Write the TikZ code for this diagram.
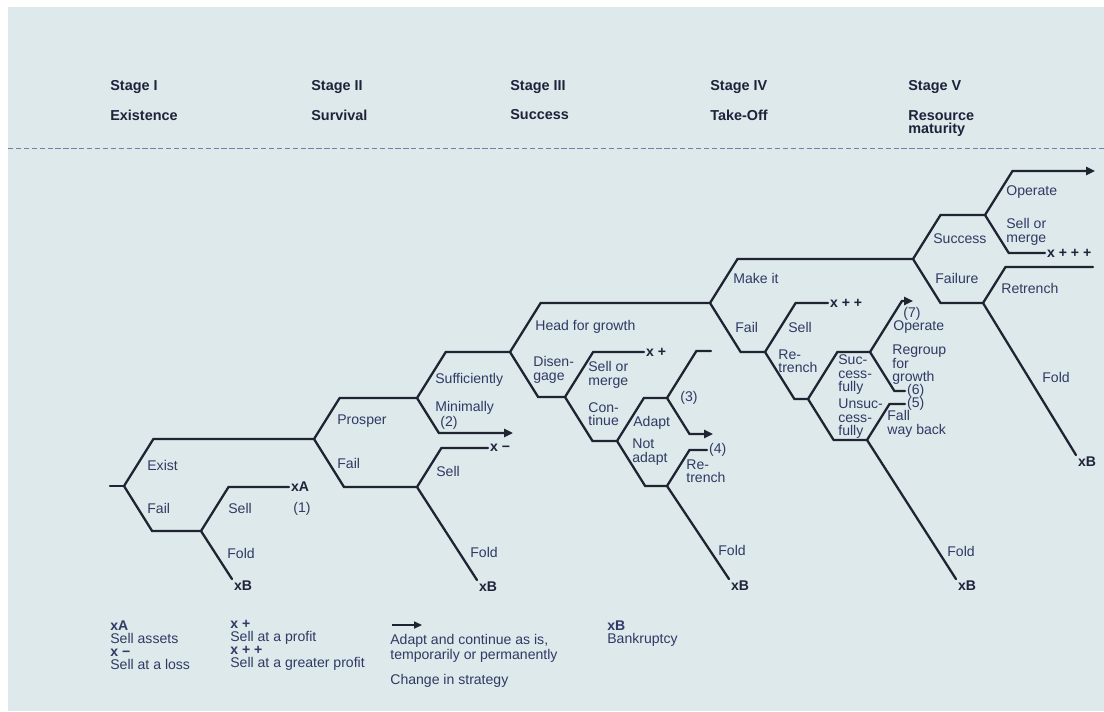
\documentclass[tikz,border=0pt]{standalone}
\usepackage{fontspec}
\setmainfont{Liberation Sans}
\usepackage{tikz}
\usetikzlibrary{arrows.meta, calc}

\definecolor{bgcol}{RGB}{221,233,235}
\definecolor{linecol}{RGB}{32,36,50}
\definecolor{textcol}{RGB}{48,58,100}
\definecolor{headcol}{RGB}{30,34,58}
\definecolor{rulecol}{RGB}{110,130,170}

\begin{document}
\begin{tikzpicture}[
  x=0.02cm, y=-0.02cm,
  branch/.style={draw=linecol, line width=1.3pt, line cap=round},
  arrowend/.style={-{Triangle[length=5pt, width=4.5pt]}},
  forkto/.style={to path={let \p1=(\tikztostart), \p2=(\tikztotarget),
      \n1={abs(\y2-\y1)/1.6} in -- ({\x1+\n1*1pt},\y2) -- (\tikztotarget) \tikztonodes}},
  lbl/.style={anchor=west, inner sep=0pt, text=textcol, align=left,
      font=\fontsize{8}{7.7}\selectfont},
  tip/.style={anchor=west, inner sep=1pt, text=headcol,
      font=\fontsize{8}{7.7}\selectfont\bfseries},
  stage/.style={anchor=west, inner sep=0pt, text=headcol, align=left,
      font=\fontsize{8.2}{7.6}\selectfont\bfseries},
  legend/.style={anchor=north west, inner sep=0pt, text=textcol, align=left,
      font=\fontsize{8}{7.4}\selectfont},
]
\useasboundingbox (0,0) rectangle (1104,711);
\fill[white] (0,0) rectangle (1104,711);
\fill[bgcol] (8,7) rectangle (1104,711);

% Stage headings
\node[stage] (st1) at (110,87) {Stage I};
\node[stage] (st2) at (311,87) {Stage II};
\node[stage] (st3) at (510,87) {Stage III};
\node[stage] (st4) at (710,87) {Stage IV};
\node[stage] (st5) at (908,87) {Stage V};
\node[stage] (nm1) at (110,115) {Existence};
\node[stage] (nm2) at (311,115) {Survival};
\node[stage] (nm3) at (510,115) {Success};
\node[stage] (nm4) at (710,115) {Take-Off};
\node[stage, anchor=north west] (nm5) at (908,110) {Resource\\maturity};
\draw[rulecol, line width=0.5pt, dash pattern=on 3pt off 1.5pt] (8,148) -- (1104,148);

% Branch points
\coordinate (s0) at (110,486);
\coordinate (b1) at (124,486);
\coordinate (b1f) at (201,531);
\coordinate (b2) at (314,439);
\coordinate (b3) at (417,398);
\coordinate (b2f) at (417,487);
\coordinate (minend) at (513,433);
\coordinate (b4) at (510,352);
\coordinate (b4d) at (565,397);
\coordinate (b4c) at (617,441);
\coordinate (b4a) at (667,398);
\coordinate (b4n) at (667,486);
\coordinate (e3) at (711,351);
\coordinate (adend) at (713,434);
\coordinate (b5) at (710,303);
\coordinate (b5f) at (765,352);
\coordinate (b5r) at (808,399);
\coordinate (b5s) at (870,352);
\coordinate (b5u) at (867,440);
\coordinate (opend) at (913,301);
\coordinate (b6) at (913,259);
\coordinate (b6s) at (985,215);
\coordinate (b6f) at (983,303);
\coordinate (opend5) at (1095,171);
\coordinate (retend) at (1093,267);

% End marks
\node[tip] (xA) at (289,487) {xA};
\node[tip] (xB1) at (232,586) {xB};
\node[tip] (xminus) at (488,448) {x −};
\node[tip] (xB2) at (477,587) {xB};
\node[tip] (xplus) at (644,352) {x +};
\node[lbl, inner sep=1pt] (four) at (707,450) {(4)};
\node[tip] (xB3) at (729,586) {xB};
\node[tip] (xpp) at (828,303) {x + +};
\node[lbl, inner sep=1pt] (six) at (905,391) {(6)};
\node[lbl, inner sep=1pt] (five) at (905,404) {(5)};
\node[tip] (xB4) at (956,586) {xB};
\node[tip] (xppp) at (1045,253) {x + + +};
\node[tip] (xB5) at (1076,462) {xB};

% Labels
\node[lbl] (lexist) at (147,465) {Exist};
\node[lbl] (lfail1) at (147,508) {Fail};
\node[lbl] (lsell1) at (228,508) {Sell};
\node[lbl] (lone) at (293,509) {(1)};
\node[lbl] (lfold1) at (227,553) {Fold};
\node[lbl] (lprosper) at (337,421) {Prosper};
\node[lbl] (lfail2) at (337,463) {Fail};
\node[lbl] (lsuff) at (435,380) {Sufficiently};
\node[lbl] (lmin) at (435,408) {Minimally};
\node[lbl] (ltwo) at (440,423) {(2)};
\node[lbl] (lsell2) at (436,471) {Sell};
\node[lbl] (lfold2) at (470,552) {Fold};
\node[lbl] (lhead) at (535,327) {Head for growth};
\node[lbl] (ldis) at (533,370) {Disen-\\gage};
\node[lbl] (lsom3) at (588,375) {Sell or\\merge};
\node[lbl] (lcont) at (588,414) {Con-\\tinue};
\node[lbl] (ladapt) at (633,423) {Adapt};
\node[lbl] (lnot) at (632,452) {Not\\adapt};
\node[lbl] (lthree) at (680,398) {(3)};
\node[lbl] (lret3) at (686,471) {Re-\\trench};
\node[lbl] (lfold3) at (718,550) {Fold};
\node[lbl] (lmake) at (733,278) {Make it};
\node[lbl] (lfail4) at (735,327) {Fail};
\node[lbl] (lsell4) at (788,327) {Sell};
\node[lbl] (lret4) at (778,361) {Re-\\trench};
\node[lbl] (lsucc) at (838,375) {Suc-\\cess-\\fully};
\node[lbl] (lunsucc) at (838,419) {Unsuc-\\cess-\\fully};
\node[lbl] (lseven) at (903,314) {(7)};
\node[lbl] (lop4) at (893,327) {Operate};
\node[lbl] (lregroup) at (892,365) {Regroup\\for\\growth};
\node[lbl] (lfall) at (887,424) {Fall\\way back};
\node[lbl] (lfold4) at (947,551) {Fold};
\node[lbl] (lsuccess) at (933,239) {Success};
\node[lbl] (lfailure) at (935,278) {Failure};
\node[lbl] (lop5) at (1006,192) {Operate};
\node[lbl] (lsom5) at (1006,232) {Sell or\\merge};
\node[lbl] (lret5) at (1001,288) {Retrench};
\node[lbl] (lfold5) at (1042,377) {Fold};

% Stage I
\draw[branch] (s0) -- (b1);
\draw[branch] (b1) to[forkto] (b2);
\draw[branch] (b1) to[forkto] (b1f);
\draw[branch] (b1f) to[forkto] (xA.west);
\draw[branch] (b1f) -- (xB1.north west);

% Stage II
\draw[branch] (b2) to[forkto] (b3);
\draw[branch] (b2) to[forkto] (b2f);
\draw[branch] (b3) to[forkto] (b4);
\draw[branch, arrowend] (b3) to[forkto] (minend);
\draw[branch] (b2f) to[forkto] (xminus.west);
\draw[branch] (b2f) -- (xB2.north west);

% Stage III
\draw[branch] (b4) to[forkto] (b5);
\draw[branch] (b4) to[forkto] (b4d);
\draw[branch] (b4d) to[forkto] (xplus.west);
\draw[branch] (b4d) to[forkto] (b4c);
\draw[branch] (b4c) to[forkto] (b4a);
\draw[branch] (b4a) to[forkto] (e3);
\draw[branch, arrowend] (b4a) to[forkto] (adend);
\draw[branch] (b4c) to[forkto] (b4n);
\draw[branch] (b4n) to[forkto] (four.west);
\draw[branch] (b4n) -- (xB3.north west);

% Stage IV
\draw[branch] (b5) to[forkto] (b6);
\draw[branch] (b5) to[forkto] (b5f);
\draw[branch] (b5f) to[forkto] (xpp.west);
\draw[branch] (b5f) to[forkto] (b5r);
\draw[branch] (b5r) to[forkto] (b5s);
\draw[branch, arrowend] (b5s) to[forkto] (opend);
\draw[branch] (b5s) to[forkto] (six.west);
\draw[branch] (b5r) to[forkto] (b5u);
\draw[branch] (b5u) to[forkto] (five.west);
\draw[branch] (b5u) -- (xB4.north west);

% Stage V
\draw[branch] (b6) to[forkto] (b6s);
\draw[branch] (b6) to[forkto] (b6f);
\draw[branch, arrowend] (b6s) to[forkto] (opend5);
\draw[branch] (b6s) to[forkto] (xppp.west);
\draw[branch] (b6f) to[forkto] (retend);
\draw[branch] (b6f) -- (xB5.north west);

% Legend
\node[legend] (key1) at (110,620) {\textbf{xA}\\Sell assets\\\textbf{x −}\\Sell at a loss};
\node[legend] (key2) at (230,620) {\textbf{x +}\\Sell at a profit\\\textbf{x + +}\\Sell at a greater profit};
\coordinate (keyA) at (392,625);
\coordinate (keyB) at (422,625);
\draw[draw=linecol, line width=0.9pt, -{Triangle[length=4.5pt, width=4pt]}] (keyA) -- (keyB);
\node[legend] (key3) at (390,634) {Adapt and continue as is,\\temporarily or permanently};
\node[legend, anchor=west] (key4) at (390,681) {Change in strategy};
\node[legend] (key5) at (607,620) {\textbf{xB}\\Bankruptcy};
\end{tikzpicture}
\end{document}
